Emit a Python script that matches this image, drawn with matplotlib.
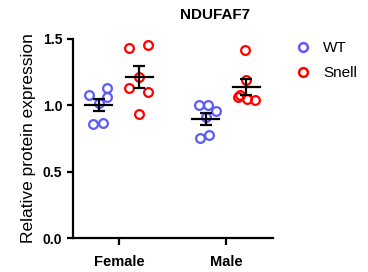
import numpy as np
import matplotlib
matplotlib.use("Agg")
from matplotlib import pyplot as plt
from matplotlib.lines import Line2D

plt.rcParams['font.family'] = ['Liberation Sans', 'DejaVu Sans']

# dados
categorias = ['Female', 'Male']
grupos = ['WT', 'Snell']
cores = {'WT': '#5c5cf5', 'Snell': '#ff0000'}

wt_female = [1.078, 1.13, 1.06, 0.86, 0.867, 1.02]
snell_female = [1.43, 1.455, 1.13, 1.10, 0.934, 1.213]
wt_male = [1.00, 1.00, 0.957, 0.754, 0.776, 0.91]
snell_male = [1.417, 1.06, 1.05, 1.04, 1.08, 1.19]

# espalhamento horizontal dos pontos
jit_wt_female = [-0.09, 0.08, 0.075, -0.055, 0.04, 0.0]
jit_snell_female = [-0.095, 0.085, -0.095, 0.085, 0.0, 0.0]
jit_wt_male = [-0.065, 0.02, 0.1, -0.05, 0.035, 0.0]
jit_snell_male = [-0.01, -0.08, 0.01, 0.085, -0.055, 0.0]

dados = {
    ('Female', 'WT'): (wt_female, jit_wt_female),
    ('Female', 'Snell'): (snell_female, jit_snell_female),
    ('Male', 'WT'): (wt_male, jit_wt_male),
    ('Male', 'Snell'): (snell_male, jit_snell_male),
}

fig = plt.figure(figsize=(3.68, 2.72), dpi=100)
ax = fig.add_axes([0.198, 0.125, 0.544, 0.732])

desloc = {'WT': -0.19, 'Snell': 0.19}
for i, cat in enumerate(categorias):
    for g in grupos:
        y, jit = dados[(cat, g)]
        y = np.array(y)
        x0 = i + desloc[g]
        ax.plot(x0 + np.array(jit), y, 'o', mfc='none', mec=cores[g],
                mew=1.6, ms=6.3, zorder=2)
        media = y.mean()
        sem = y.std(ddof=1) / np.sqrt(len(y))
        ax.plot([x0 - 0.125, x0 + 0.125], [media, media], color='black',
                lw=1.6, zorder=3)
        ax.errorbar(x0, media, yerr=sem, fmt='none', ecolor='black',
                    elinewidth=1.6, capsize=4.5, capthick=1.6, zorder=3)

ax.set_xlim(-0.43, 1.44)
ax.set_ylim(0, 1.5)
ax.set_yticks([0, 0.5, 1.0, 1.5])
ax.set_yticklabels(['0.0', '0.5', '1.0', '1.5'])
ax.set_xticks([0, 1])
ax.set_xticklabels(categorias)
for s in ['top', 'right']:
    ax.spines[s].set_visible(False)
for s in ['left', 'bottom']:
    ax.spines[s].set_linewidth(1.6)
ax.tick_params(width=1.6, length=4, labelsize=10)
ax.tick_params(axis='x', length=5, pad=7, labelsize=10.5)
for lab in ax.get_xticklabels() + ax.get_yticklabels():
    lab.set_fontweight('bold')
ax.set_ylabel('Relative protein expression', fontsize=12.5, labelpad=5)

fig.text(0.585, 0.945, 'NDUFAF7', ha='center', va='center',
         fontsize=11, fontweight='bold')

handles = [Line2D([], [], ls='none', marker='o', mfc='none', mec=cores[g],
                  mew=1.8, ms=6.3) for g in grupos]
fig.legend(handles, grupos, loc='upper left', bbox_to_anchor=(0.766, 0.899),
           frameon=False, fontsize=11, handletextpad=0.8, labelspacing=0.7,
           handlelength=1.0)

fig.savefig('out.png', dpi=100)
